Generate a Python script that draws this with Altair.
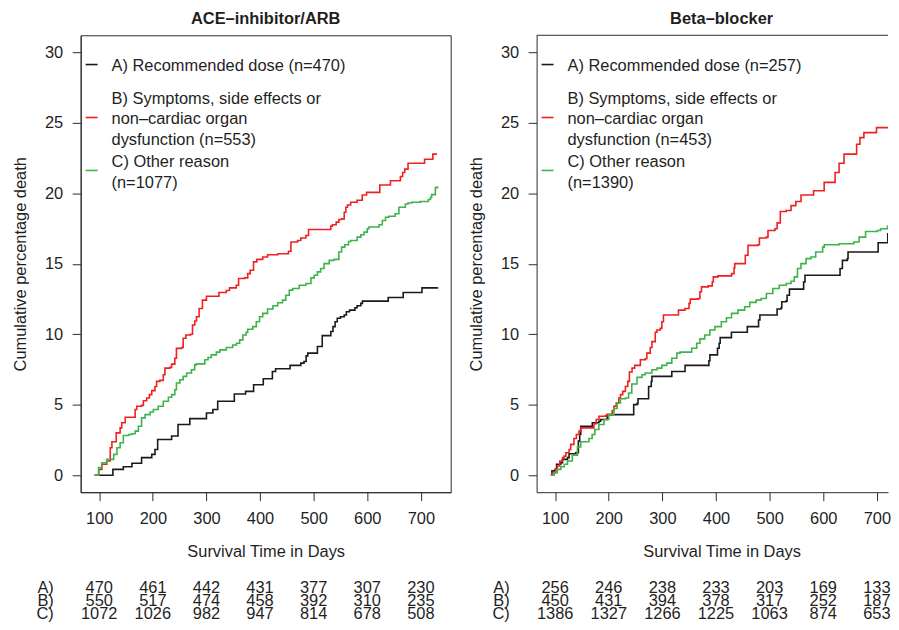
import altair as alt
import pandas as pd

FONT = "Liberation Sans"
TXT = "#1f1f1f"
AX = "#2b2b2b"
GROUPS = ["A", "B", "C"]
ROWS = ["A)", "B)", "C)"]
COLORS = ["#1a1a1a", "#ee2020", "#3db34a"]

# ---------------- data (day, cumulative % death) ----------------
ACE_A = [(91.5, 0), (125.5, 0.42), (145, 0.61), (161, 0.85), (179, 1.25), (198, 1.48), (204, 1.83),
         (209, 2.54), (235, 2.78), (247, 3.6), (269, 4.02), (300, 4.42), (312, 4.66), (321, 5.25),
         (352, 5.76), (373, 5.95), (388, 6.42), (406, 6.85), (423, 7.36), (429, 7.55), (456, 7.79),
         (476, 7.95), (482, 8.07), (486, 8.47), (489, 8.66), (507, 9.13), (516, 9.9), (532, 10.19),
         (536, 10.54), (540, 10.89), (544, 11.13), (550, 11.24), (557, 11.36), (561, 11.6), (567, 11.71),
         (577, 11.88), (581, 12.02), (588, 12.19), (591, 12.35), (639, 12.61), (667, 12.96), (702, 13.29),
         (731, 13.34)]
ACE_B = [(91.5, 0), (99, 0.42), (105, 0.78), (114, 1.01), (120.6, 1.95), (123.7, 2.38), (131.7, 3.01),
         (139, 3.36), (142, 3.72), (148.4, 4.12), (167, 4.66), (170, 4.89), (179, 4.96), (182.4, 5.29),
         (188.6, 5.48), (193.6, 5.72), (198, 6.0), (204, 6.3), (207, 6.66), (213, 6.73), (219.5, 7.13),
         (222.6, 7.6), (232, 7.65), (235, 7.88), (241, 8.3), (244, 9.0), (253.6, 9.06), (256.6, 9.72),
         (261.6, 9.95), (270.3, 10.0), (274, 10.66), (278.3, 10.94), (281.4, 11.24), (286.3, 11.83),
         (292.5, 12.42), (300, 12.7), (323.4, 12.96), (337, 13.1), (343, 13.29), (355.6, 13.48),
         (360, 13.95), (371, 14.0), (377, 14.3), (381.6, 14.54), (387.8, 15.13), (394, 15.31),
         (405, 15.48), (414, 15.64), (433, 15.71), (453, 15.88), (457.6, 16.54), (470, 16.65),
         (476, 16.82), (485.5, 17.0), (490.4, 17.43), (532, 17.67), (535, 17.76), (542, 17.95),
         (547, 18.14), (552, 18.18), (557, 18.65), (560, 19.0), (563, 19.17), (569, 19.36), (581, 19.5),
         (590.6, 19.87), (598.7, 20.06), (623.4, 20.58), (643.2, 20.89), (661.8, 21.19), (666, 21.47),
         (669.8, 21.71), (676, 22.13), (706.9, 22.41), (722.3, 22.77), (730, 22.77)]
ACE_C = [(91.5, 0), (99, 0.54), (105, 0.89), (114, 1.13), (127, 1.48), (133, 1.95), (139, 2.31),
         (145, 2.82), (155, 2.89), (161, 2.94), (167, 3.13), (173, 3.48), (179, 4.07), (185.5, 4.3),
         (195, 4.49), (201, 4.66), (210, 4.89), (219.5, 5.25), (229, 5.53), (235, 5.72), (241, 6.07),
         (244, 6.54), (250.5, 6.77), (256.6, 7.01), (263, 7.25), (272, 7.48), (278, 7.83), (281, 7.9),
         (297, 8.19), (303, 8.35), (309, 8.54), (318.5, 8.73), (325, 8.89), (337, 9.06), (349, 9.24),
         (356, 9.36), (362, 9.6), (368, 9.95), (374, 10.14), (377, 10.35), (386.5, 10.54), (393, 10.89),
         (399, 11.24), (405, 11.48), (414, 11.79), (424, 12.02), (433, 12.23), (442, 12.42), (448, 12.77),
         (454.5, 13.13), (461, 13.24), (473, 13.48), (485.5, 13.6), (495, 14.0), (501, 14.18),
         (507, 14.42), (513, 14.66), (519.5, 15.01), (529, 15.24), (538, 15.31), (547, 15.83),
         (552, 16.18), (558, 16.35), (565, 16.58), (569, 16.65), (581, 16.89), (588, 17.05), (594, 17.24),
         (600, 17.48), (603, 17.6), (622, 17.76), (628, 18.07), (634, 18.3), (640, 18.37), (652, 18.54),
         (659, 19.0), (671, 19.24), (676, 19.31), (683, 19.36), (699, 19.41), (714, 19.55), (718, 19.7),
         (720, 19.9), (727, 20.4), (731, 20.5)]

BB_A = [(92, 0), (94, 0.31), (100, 0.42), (102.6, 0.78), (110.6, 0.89), (113.7, 1.13), (123, 1.25),
        (126, 1.53), (138.4, 1.6), (143.3, 2.42), (145.8, 2.89), (147.7, 3.48), (169.3, 3.72),
        (181.6, 3.83), (184.7, 3.95), (197, 4.3), (246.5, 5.01), (252.7, 5.08), (254.6, 5.43),
        (274.3, 6.3), (279.3, 6.66), (280.5, 7.01), (317.6, 7.36), (342.3, 7.79), (386.8, 8.12),
        (388.6, 8.54), (402.8, 9.01), (405.9, 9.36), (407.8, 9.76), (428.8, 10.14), (458.4, 10.54),
        (479.4, 11.01), (481.9, 11.36), (514, 11.79), (521.5, 11.88), (522.7, 12.3), (530.7, 12.35),
        (532.6, 12.77), (537, 13.2), (563.5, 13.71), (566, 14.18), (631.4, 14.66), (635.8, 15.24),
        (645, 15.36), (646.3, 15.83), (702.5, 16.49), (720.4, 17.13), (731.5, 17.13)]
BB_B = [(92, 0), (95, 0.19), (101, 0.42), (104, 0.66), (108.7, 1.01), (113.7, 1.25), (116.8, 1.36),
        (120, 1.6), (126, 1.83), (129, 2.19), (135, 2.61), (139.6, 2.89), (144.6, 3.13), (147.7, 3.36),
        (172.4, 3.65), (176.7, 3.95), (181.6, 4.19), (194, 4.23), (197, 4.3), (206.4, 4.59),
        (209.5, 4.89), (213.8, 5.13), (218.7, 5.48), (221.8, 5.72), (226, 5.95), (231, 6.3),
        (235.4, 6.66), (238.5, 7.32), (243.4, 7.6), (248.4, 7.79), (258.9, 8.19), (268, 8.26),
        (271, 8.66), (277.4, 9.06), (280.5, 9.48), (286.7, 10.14), (289.8, 10.3), (296, 10.42),
        (299, 10.89), (302, 11.36), (330, 11.71), (342, 11.83), (349.7, 12.19), (352, 12.49),
        (367, 12.54), (370, 13.01), (373, 13.36), (385.5, 13.43), (393, 13.71), (395, 14.07),
        (404, 14.14), (429, 14.3), (433.7, 14.7), (435, 15.01), (454.7, 15.6), (459.7, 16.3),
        (478, 16.35), (481, 16.82), (494, 16.89), (497, 17.36), (510, 17.48), (514, 17.9), (520, 18.7),
        (531, 18.77), (540, 19.12), (549, 19.41), (558.6, 19.87), (582, 20.18), (601.8, 20.77),
        (622.2, 21.47), (629.6, 22.13), (638.9, 22.77), (662.3, 23.47), (668.5, 23.94), (675.9, 24.3),
        (699.4, 24.65), (727.2, 25.12), (731, 25.59)]
BB_C = [(92, 0), (98, 0.19), (104, 0.42), (110.6, 0.61), (117, 0.78), (123, 1.01), (132, 1.43),
        (141.5, 2.0), (147.7, 2.38), (163, 2.61), (169, 2.89), (174, 3.25), (181.6, 3.6), (191, 3.95),
        (200, 4.3), (209.5, 4.73), (215.6, 5.13), (221.8, 5.43), (231, 5.48), (237, 5.83), (243, 6.47),
        (252.7, 6.94), (262, 7.13), (268, 7.25), (280.5, 7.48), (290, 7.6), (299, 7.79), (308, 7.95),
        (317.6, 8.3), (327, 8.66), (333, 8.73), (354.6, 9.01), (364, 9.36), (370, 9.67), (379, 9.95),
        (388.6, 10.3), (398, 10.54), (410, 10.89), (419.5, 11.17), (429, 11.48), (441, 11.71),
        (453.5, 11.95), (463, 12.26), (475, 12.42), (484, 12.54), (494, 12.89), (506, 13.24),
        (518, 13.48), (531, 13.6), (540, 13.76), (546, 14.07), (552, 14.66), (558.5, 15.01),
        (568, 15.36), (577, 15.48), (586, 15.83), (599, 16.18), (602, 16.35), (630, 16.42),
        (657, 16.54), (667, 16.89), (679, 17.29), (701, 17.36), (707, 17.48), (720, 17.67),
        (728, 17.76), (731.5, 18.0)]

TICK_DAYS = [100, 200, 300, 400, 500, 600, 700]
TICK_PCT = [0, 5, 10, 15, 20, 25, 30]

ACE_RISK_A = [470, 461, 442, 431, 377, 307, 230]
ACE_RISK_B = [550, 517, 474, 458, 392, 310, 235]
ACE_RISK_C = [1072, 1026, 982, 947, 814, 678, 508]
BB_RISK_A = [256, 246, 238, 233, 203, 169, 133]
BB_RISK_B = [450, 431, 394, 378, 317, 252, 187]
BB_RISK_C = [1386, 1327, 1266, 1225, 1063, 874, 653]

ACE_LABELS = ["A) Recommended dose (n=470)",
              "B) Symptoms, side effects or\nnon\u2013cardiac organ\ndysfunction (n=553)",
              "C) Other reason\n(n=1077)"]
BB_LABELS = ["A) Recommended dose (n=257)",
             "B) Symptoms, side effects or\nnon\u2013cardiac organ\ndysfunction (n=453)",
             "C) Other reason\n(n=1390)"]

# ---------------- layout ----------------
W1, W2, H = 371.7, 353.0, 459
XDOM1 = [65.4, 755.6]
PX_PER_DAY = W1 / (XDOM1[1] - XDOM1[0])
XDOM2 = [65.4, 65.4 + W2 / PX_PER_DAY]
YDOM = [-1.2, 31.2]
FS = 16.5
LH = 20.8
ONE = alt.Data(values=[{"k": 0}])


def panel(title, curves, risks, labels, width, xdom, full_box, anchor):
    rows = []
    for g, pts in zip(GROUPS, curves):
        for d, p in pts:
            rows.append({"grp": g, "day": d, "pct": p})
    df = pd.DataFrame(rows)

    rrows = []
    for r, vals in zip(ROWS, risks):
        for d, n in zip(TICK_DAYS, vals):
            rrows.append({"row": r, "day": d, "n": n})
    rdf = pd.DataFrame(rrows)

    ldf = pd.DataFrame({"grp": GROUPS, "label": labels})

    xs = alt.Scale(domain=xdom, nice=False, zero=False)
    color = alt.Color("grp:N", scale=alt.Scale(domain=GROUPS, range=COLORS), legend=None)
    row_scale = alt.Scale(type="point", domain=ROWS, range=[555, 581.6], padding=0)
    leg_scale = alt.Scale(type="point", domain=GROUPS, range=[29.4, 135.8], padding=0)

    x_axis = alt.Axis(values=TICK_DAYS, format="d", title="Survival Time in Days",
                      tickSize=8.5, labelPadding=9.5, labelFlush=False, labelOverlap=False,
                      titleX=W1 / 2, titleY=59.5, titleBaseline="middle", titleAlign="center")
    y_axis = alt.Axis(values=TICK_PCT, format="d", title="Cumulative percentage death",
                      orient="left", tickSize=8.5, labelPadding=9.5, labelFlush=False,
                      labelOverlap=False, titleX=-60, titleY=H / 2, titleBaseline="middle",
                      titleAlign="center", titleAngle=-90)

    lines = alt.Chart(df).mark_line(interpolate="step-after", strokeWidth=1.6, clip=True).encode(
        x=alt.X("day:Q", scale=xs, axis=x_axis),
        y=alt.Y("pct:Q", scale=alt.Scale(domain=YDOM, nice=False, zero=False), axis=y_axis),
        color=color,
    )
    table = alt.Chart(rdf).mark_text(font=FONT, fontSize=FS, color=TXT, align="center",
                                     baseline="middle").encode(
        x=alt.X("day:Q", scale=xs),
        y=alt.Y("row:N", scale=row_scale, axis=None),
        text=alt.Text("n:Q", format="d"),
    )
    rowlab = alt.Chart(pd.DataFrame({"row": ROWS})).mark_text(
        font=FONT, fontSize=FS, color=TXT, align="right", baseline="middle").encode(
        x=alt.value(-27),
        y=alt.Y("row:N", scale=row_scale, axis=None),
        text="row:N",
    )
    leg_rule = alt.Chart(ldf).mark_rule(strokeWidth=1.6).encode(
        x=alt.value(5), x2=alt.value(17),
        y=alt.Y("grp:N", scale=leg_scale, axis=None),
        color=color,
    )
    ttl = alt.Chart(pd.DataFrame({"t": [title]})).mark_text(
        font=FONT, fontSize=FS, fontWeight="bold", color=TXT, align="center",
        baseline="alphabetic").encode(
        x=alt.value(W1 / 2), y=alt.value(-11.1), text="t:N")

    layers = [lines, table, rowlab, leg_rule, ttl]
    for g, lab in zip(GROUPS, labels):
        nlines = lab.count("\n") + 1
        layers.append(
            alt.Chart(pd.DataFrame({"grp": [g], "label": [lab]})).mark_text(
                font=FONT, fontSize=FS, color=TXT, align="left", baseline="middle",
                lineBreak="\n", lineHeight=LH, dy=-(nlines - 1) * LH / 2 + 1.8).encode(
                x=alt.value(31),
                y=alt.Y("grp:N", scale=leg_scale, axis=None),
                text="label:N",
            )
        )
    if not full_box:
        top = alt.Chart(ONE).mark_rule(color=AX, strokeWidth=1).encode(
            x=alt.value(0), x2=alt.value(width), y=alt.value(0))
        layers.append(top)
    if anchor:
        # invisible frame that fixes the page origin (top-left corner of the figure)
        frame = alt.Chart(ONE).mark_rect(opacity=0).encode(
            x=alt.value(-72), x2=alt.value(0), y=alt.value(-24.7), y2=alt.value(0))
        layers.append(frame)

    view = alt.ViewBackground(stroke=AX, strokeWidth=1) if full_box else alt.ViewBackground(stroke=None)
    return alt.layer(*layers).resolve_scale(y="independent").properties(
        width=width, height=H, view=view,
    )


left = panel("ACE\u2013inhibitor/ARB", [ACE_A, ACE_B, ACE_C],
             [ACE_RISK_A, ACE_RISK_B, ACE_RISK_C], ACE_LABELS, W1, XDOM1, True, True)
right = panel("Beta\u2013blocker", [BB_A, BB_B, BB_C],
              [BB_RISK_A, BB_RISK_B, BB_RISK_C], BB_LABELS, W2, XDOM2, False, False)

chart = alt.HConcatChart(hconcat=[left, right], spacing=86, bounds="flush").properties(
    padding=0
).configure_axis(
    labelFont=FONT, titleFont=FONT, labelFontSize=FS, titleFontSize=FS,
    titleFontWeight="normal", labelColor=TXT, titleColor=TXT,
    domainColor=AX, tickColor=AX, domainWidth=1, tickWidth=1, grid=False,
).configure_view(stroke=None)

chart.save("out.html", embed_options={"renderer": "svg", "actions": False})
